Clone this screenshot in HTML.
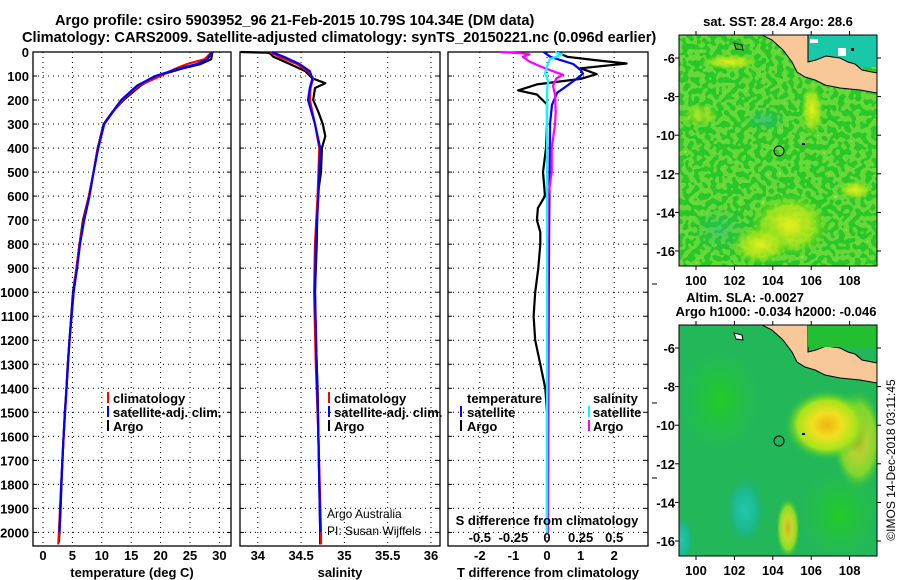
<!DOCTYPE html>
<html><head><meta charset="utf-8">
<style>
html,body{margin:0;padding:0;background:#fff;}
svg{display:block;font-family:"Liberation Sans",sans-serif;}
.b{font-weight:bold;}
</style></head>
<body>
<svg id="chart" width="900" height="580" viewBox="0 0 900 580" xmlns="http://www.w3.org/2000/svg">
<defs>
<radialGradient id="gy1" cx="50%" cy="50%" r="50%"><stop offset="0" stop-color="#e6ef1a"/><stop offset="0.6" stop-color="#b8e81a" stop-opacity="0.7"/><stop offset="1" stop-color="#4fd21a" stop-opacity="0"/></radialGradient>
<radialGradient id="gc1" cx="50%" cy="50%" r="50%"><stop offset="0" stop-color="#19b9a0"/><stop offset="1" stop-color="#1bb070" stop-opacity="0"/></radialGradient>
<radialGradient id="go2" cx="50%" cy="50%" r="50%"><stop offset="0" stop-color="#f0b410"/><stop offset="0.35" stop-color="#f0e020"/><stop offset="0.7" stop-color="#a8e41c"/><stop offset="1" stop-color="#3ec828" stop-opacity="0"/></radialGradient>
<radialGradient id="gc2" cx="50%" cy="50%" r="50%"><stop offset="0" stop-color="#20c8b0"/><stop offset="0.6" stop-color="#1cb98a"/><stop offset="1" stop-color="#20b060" stop-opacity="0"/></radialGradient>
<radialGradient id="gg2" cx="50%" cy="50%" r="50%"><stop offset="0" stop-color="#22d018"/><stop offset="1" stop-color="#22c830" stop-opacity="0"/></radialGradient>
<filter id="noise" x="0" y="0" width="100%" height="100%">
<feTurbulence type="fractalNoise" baseFrequency="0.18" numOctaves="1" seed="3"/>
<feComponentTransfer><feFuncA type="discrete" tableValues="0 0 0.35 0.6"/></feComponentTransfer>
<feColorMatrix type="matrix" values="0 0 0 0 0.75  0 0 0 0 0.9  0 0 0 0 0.1  0 0 0 1 0"/>
</filter>
<clipPath id="m1c"><rect x="679" y="35" width="198" height="231"/></clipPath>
<clipPath id="m2c"><rect x="679" y="325" width="198" height="231"/></clipPath>
</defs>

<g class="b" font-size="14.6" text-anchor="start">
<text x="55" y="25">Argo profile: csiro 5903952_96 21-Feb-2015 10.79S 104.34E (DM data)</text>
<text x="22" y="42">Climatology: CARS2009. Satellite-adjusted climatology: synTS_20150221.nc (0.096d earlier)</text>
</g>

<g id="panels"></g>

<!-- Maps -->
<g>
<text x="778" y="26" text-anchor="middle" class="b" font-size="13">sat. SST: 28.4 Argo: 28.6</text>
<g clip-path="url(#m1c)">
<rect x="679" y="35" width="198" height="231" fill="#28c828"/>
<rect x="679" y="35" width="198" height="231" filter="url(#noise)"/>
<ellipse cx="790" cy="225" rx="40" ry="32" fill="url(#gy1)"/>
<ellipse cx="760" cy="245" rx="30" ry="20" fill="url(#gy1)"/>
<ellipse cx="812" cy="110" rx="12" ry="28" fill="url(#gy1)"/>
<ellipse cx="855" cy="190" rx="18" ry="10" fill="url(#gy1)"/>
<ellipse cx="730" cy="62" rx="30" ry="8" fill="url(#gy1)"/>
<ellipse cx="700" cy="115" rx="20" ry="12" fill="url(#gy1)" opacity="0.6"/>
<ellipse cx="765" cy="120" rx="22" ry="12" fill="url(#gc1)" opacity="0.6"/>
<ellipse cx="720" cy="230" rx="30" ry="25" fill="url(#gc1)" opacity="0.4"/>
<rect x="808" y="35" width="69" height="32" fill="#18c8a8"/>
<rect x="810" y="39" width="8" height="4" fill="#fff"/>
<rect x="838" y="48" width="8" height="8" fill="#fff"/>
<rect x="851" y="48" width="3" height="3" fill="#000"/>
<rect x="840" y="59" width="3" height="3" fill="#0000ff"/>
<path d="M762,35 L772,40 L783,50 L792,62 L797,72 L805,77 L815,80 L825,85 L840,88 L860,90 L877,93 L877,73 L862,70 L855,64 L848,62 L840,58 L826,56 L816,60 L808,62 L808,35 Z" fill="#f8c898" stroke="#000" stroke-width="1"/>
<path d="M734,43 L742,45 L743,50 L736,49 Z" fill="#28c828" stroke="#000" stroke-width="1"/>
</g>
<rect x="679" y="35" width="198" height="231" fill="none" stroke="#000" stroke-width="1"/>
<circle cx="779" cy="151" r="5" fill="none" stroke="#000" stroke-width="1"/>
<rect x="802" y="143" width="3" height="2" fill="#000"/>
</g>

<g>
<text x="745" y="302" text-anchor="middle" class="b" font-size="13">Altim. SLA: -0.0027</text>
<text x="776" y="316" text-anchor="middle" class="b" font-size="13">Argo h1000: -0.034 h2000: -0.046</text>
<g clip-path="url(#m2c)">
<rect x="679" y="325" width="198" height="231" fill="#22b85a"/>
<ellipse cx="720" cy="400" rx="40" ry="50" fill="url(#gg2)" opacity="0.8"/>
<ellipse cx="840" cy="515" rx="40" ry="45" fill="url(#gg2)" opacity="0.8"/>
<ellipse cx="858" cy="440" rx="25" ry="50" fill="url(#go2)" opacity="0.7"/>
<ellipse cx="827" cy="425" rx="42" ry="35" fill="url(#go2)"/>
<ellipse cx="788" cy="528" rx="12" ry="30" fill="url(#go2)" opacity="0.8"/>
<ellipse cx="745" cy="510" rx="20" ry="35" fill="url(#gc2)"/>
<ellipse cx="682" cy="540" rx="12" ry="25" fill="url(#gc2)"/>
<path d="M762,325 L772,330 L783,340 L792,352 L797,362 L805,367 L815,370 L825,375 L840,378 L860,380 L877,383 L877,363 L862,360 L855,354 L848,352 L840,348 L826,346 L816,350 L808,352 L808,325 Z" fill="#f8c898" stroke="#000" stroke-width="1"/>
<rect x="808" y="325" width="69" height="22" fill="#22c030"/>
<path d="M734,333 L742,335 L743,340 L736,339 Z" fill="#fff" stroke="#000" stroke-width="1"/>
</g>
<rect x="679" y="325" width="198" height="231" fill="none" stroke="#000" stroke-width="1"/>
<circle cx="779" cy="441" r="5" fill="none" stroke="#000" stroke-width="1"/>
<rect x="802" y="433" width="3" height="2" fill="#000"/>
</g>
<text transform="translate(895,460) rotate(-90)" text-anchor="middle" font-size="12">©IMOS 14-Dec-2018 03:11:45</text>
</svg>

<script>
// ---- depth axis ----
var depthTicks = [0,100,200,300,400,500,600,700,800,900,1000,1100,1200,1300,1400,1500,1600,1700,1800,1900,2000];
// ---- temperature panel data ----
var tempTicks = [0,5,10,15,20,25,30];
var argoTempDepth = [0,30,50,70,100,140,200,250,300,400,500,600,700,800,900,1000,1100,1200,1300,1400,1500,1700,1900,2000,2040];
var argoTemp      = [28.8,28.6,26.8,23.5,19.4,16.6,13.7,11.8,10.3,9.3,8.6,7.8,6.8,6.2,5.7,5.1,4.8,4.5,4.2,4.0,3.7,3.3,3.0,2.8,2.7];
var climTempDepth = [0,30,50,70,100,140,200,250,300,400,500,600,700,800,900,1000,1200,1400,1600,1800,2000,2050];
var climTemp      = [28.7,27.5,24.5,22.5,20.0,16.3,13.5,11.9,10.4,9.3,8.6,7.8,6.9,6.2,5.7,5.2,4.5,4.0,3.5,3.1,2.7,2.6];
var satTempDepth  = [0,30,50,70,100,140,200,250,300,400,500,600,700,800,900,1000,1200,1400,1600,1800,2000];
var satTemp       = [28.7,28.0,26.2,23.0,19.1,16.0,13.3,11.8,10.4,9.4,8.6,7.9,7.0,6.3,5.8,5.2,4.5,4.0,3.5,3.1,2.8];
// ---- salinity panel data ----
var salTicks = [34,34.5,35,35.5,36];
var argoSalDepth = [0,3,5,20,50,80,110,130,150,200,250,300,350,400,500,600,800,1000,1200,1400,1600,1800,2000,2050];
var argoSal      = [33.8,34.1,34.14,34.18,34.37,34.55,34.63,34.78,34.66,34.64,34.70,34.75,34.78,34.74,34.73,34.69,34.68,34.66,34.67,34.69,34.70,34.71,34.72,34.72];
var climSalDepth = [0,20,50,80,110,150,200,300,400,600,800,1000,1300,1600,2000,2050];
var climSal      = [34.14,34.25,34.45,34.58,34.64,34.61,34.60,34.66,34.71,34.69,34.66,34.65,34.67,34.70,34.73,34.73];
var satSalDepth  = [0,20,50,80,110,150,200,300,400,600,800,1000,1300,1600,2000];
var satSal       = [34.16,34.3,34.48,34.6,34.63,34.6,34.58,34.66,34.72,34.70,34.67,34.66,34.68,34.70,34.72];
// ---- difference panel data ----
var dTTicks = [-2,-1,0,1,2];
var dSTickVals = [-0.5,-0.25,0,0.25,0.5];
var dSTickLabels = ["-0.5","-0.25","0","0.25","0.5"];
var argoDTDepth = [0,20,33,48,68,92,112,135,160,177,218,300,400,500,600,650,700,750,800,900,1000,1100,1200,1300,1400,1500,2000];
var argoDT      = [0.29,0.6,1.37,2.37,1.0,1.48,1.0,-0.3,-0.86,-0.3,0,0,-0.03,-0.12,-0.06,-0.27,-0.3,-0.2,-0.2,-0.26,-0.35,-0.4,-0.35,-0.2,-0.05,0,0];
var satDTDepth  = [0,20,33,50,75,90,110,140,170,220,300,600,1000,1500,2000];
var satDT       = [-0.1,0.1,0.39,0.78,1.0,1.07,0.9,0.6,0.3,0.15,0.09,0.07,0.05,0.04,0.03];
var argoDSDepth = [0,5,10,20,40,60,80,95,110,140,180,250,300,400,500,600,800,1000,1500,2000];
var argoDS      = [-0.35,-0.2,-0.13,-0.18,-0.13,-0.05,0.045,0.12,0.07,0.045,0.06,0.065,0.06,0.035,0.035,0.01,0.005,0.005,0.005,0.005];
var satDSDepth  = [0,10,30,60,90,120,160,300,600,1000,1500,2000];
var satDS       = [0.06,0.11,0.02,0,-0.015,0.008,0,0,0,0,0,0];

var NS = "http://www.w3.org/2000/svg";
var root = document.getElementById('panels');
var TOP = 52, BOT = 546;
function yD(d){ return TOP + d*0.2402; }
function mk(tag, attrs, parent){ var e=document.createElementNS(NS,tag); for(var k in attrs) e.setAttribute(k,attrs[k]); (parent||root).appendChild(e); return e; }
function txt(x,y,s,parent,anchor,size,bold){ var t=mk('text',{x:x,y:y,'text-anchor':anchor||'middle','font-size':size||13},parent); if(bold!==false) t.setAttribute('font-weight','bold'); t.textContent=s; return t; }

function panel(name, x0, x1, xFn, xticks, xlabels, title){
  var g = mk('g',{});
  
  
  for (var i=1;i<depthTicks.length;i++){
    var gl = mk('line',{x1:x0,x2:x1,y1:yD(depthTicks[i]),y2:yD(depthTicks[i]),stroke:'#000','stroke-width':1,'stroke-dasharray':'1,4'},g);
    
    
    mk('line',{x1:x0,x2:x0+4,y1:yD(depthTicks[i]),y2:yD(depthTicks[i]),stroke:'#000'},g);
    mk('line',{x1:x1-4,x2:x1,y1:yD(depthTicks[i]),y2:yD(depthTicks[i]),stroke:'#000'},g);
  }
  for (var j=0;j<xticks.length;j++){
    var xx = xFn(xticks[j]);
    var vl = mk('line',{x1:xx,x2:xx,y1:TOP,y2:BOT,stroke:'#000','stroke-width':1,'stroke-dasharray':'1,4'},g);
    
    
    if (xlabels){
      var tl = txt(xx,560,xlabels[j],g);
      
      
    }
  }
  mk('rect',{x:x0,y:TOP,width:x1-x0,height:BOT-TOP,fill:'none',stroke:'#000','stroke-width':1.3},g);
  var at = txt((x0+x1)/2,577,title,g);
  
  
  return g;
}
function series(g, name, depths, vals, xFn, color){
  var pts=[];
  for (var i=0;i<depths.length;i++) pts.push(xFn(vals[i]).toFixed(1)+','+yD(depths[i]).toFixed(1));
  var p = mk('polyline',{points:pts.join(' '),fill:'none',stroke:color,'stroke-width':2.2,'stroke-linejoin':'round'},g);
  
  
}
function legendItem(g, bx, tx, y, color, label){
  mk('rect',{x:bx,y:y-11,width:2,height:11,fill:color},g);
  var t = txt(tx,y,label,g,'start',13);
  
  
}

var yl = mk('g',{});


depthTicks.forEach(function(d){ txt(29,yD(d)+5,String(d),yl,'end',13); });

function xT(v){ return 43 + v*5.88; }
var gT = panel('temperature-panel',33,231,xT,tempTicks,tempTicks.map(String),'temperature (deg C)');
series(gT,'argo-temperature-line',argoTempDepth,argoTemp,xT,'#000');
series(gT,'climatology-temperature-line',climTempDepth,climTemp,xT,'#ff0000');
series(gT,'satellite-temperature-line',satTempDepth,satTemp,xT,'#0000ff');
legendItem(gT,107,113,403,'#ff0000','climatology');
legendItem(gT,107,113,417,'#0000ff','satellite-adj. clim.');
legendItem(gT,107,113,431,'#000','Argo');

function xS(v){ return 257.8 + (v-34)*86.6; }
var gS = panel('salinity-panel',240,440,xS,salTicks,salTicks.map(String),'salinity');
series(gS,'argo-salinity-line',argoSalDepth,argoSal,xS,'#000');
series(gS,'climatology-salinity-line',climSalDepth,climSal,xS,'#ff0000');
series(gS,'satellite-salinity-line',satSalDepth,satSal,xS,'#0000ff');
legendItem(gS,328,334,403,'#ff0000','climatology');
legendItem(gS,328,334,417,'#0000ff','satellite-adj. clim.');
legendItem(gS,328,334,431,'#000','Argo');
var c1 = txt(327,518,'Argo Australia',gS,'start',12,false);

var c2 = txt(327,535,'PI: Susan Wijffels',gS,'start',12,false);


function xDT(v){ return 547 + v*33.6; }
function xDS(v){ return 547 + v*134.4; }
var gD = panel('difference-panel',448,648,xDT,dTTicks,dTTicks.map(String),'T difference from climatology');
series(gD,'argo-t-diff-line',argoDTDepth,argoDT,xDT,'#000');
series(gD,'satellite-t-diff-line',satDTDepth,satDT,xDT,'#0000ff');
series(gD,'argo-s-diff-line',argoDSDepth,argoDS,xDS,'#ff00ff');
series(gD,'satellite-s-diff-line',satDSDepth,satDS,xDS,'#00ffff');
var lt = txt(467,403,'temperature',gD,'start',13); 
legendItem(gD,460,467,417,'#0000ff','satellite');
legendItem(gD,460,467,431,'#000','Argo');
var ls = txt(593,403,'salinity',gD,'start',13); 
legendItem(gD,588,593,417,'#00ffff','satellite');
legendItem(gD,588,593,431,'#ff00ff','Argo');
var st = txt(547,525,'S difference from climatology',gD,'middle',13);

dSTickVals.forEach(function(v,i){
  var t = txt(xDS(v),542,dSTickLabels[i],gD,'middle',13);
  
});
[284,403,478].forEach(function(y){ mk('line',{x1:652,x2:657,y1:y,y2:y,stroke:'#000'}); });

var mapLons = [100,102,104,106,108];
var mapLats = [-6,-8,-10,-12,-14,-16];
function mLon(v){ return 696 + (v-100)*19.2; }
function mLat(v,top){ return top + 23 + (-6 - v)*19.3; }
[35,325].forEach(function(top){
  var g = mk('g',{});
  
  
  mapLons.forEach(function(v){
    var x=mLon(v);
    mk('line',{x1:x,x2:x,y1:top-4,y2:top,stroke:'#000'},g);
    mk('line',{x1:x,x2:x,y1:top+231,y2:top+235,stroke:'#000'},g);
    txt(x,top+250,String(v),g,'middle',13);
  });
  mapLats.forEach(function(v){
    var y=mLat(v,top);
    mk('line',{x1:675,x2:679,y1:y,y2:y,stroke:'#000'},g);
    mk('line',{x1:877,x2:881,y1:y,y2:y,stroke:'#000'},g);
    txt(675,y+5,String(v),g,'end',13);
  });
});
</script>
</body></html>
